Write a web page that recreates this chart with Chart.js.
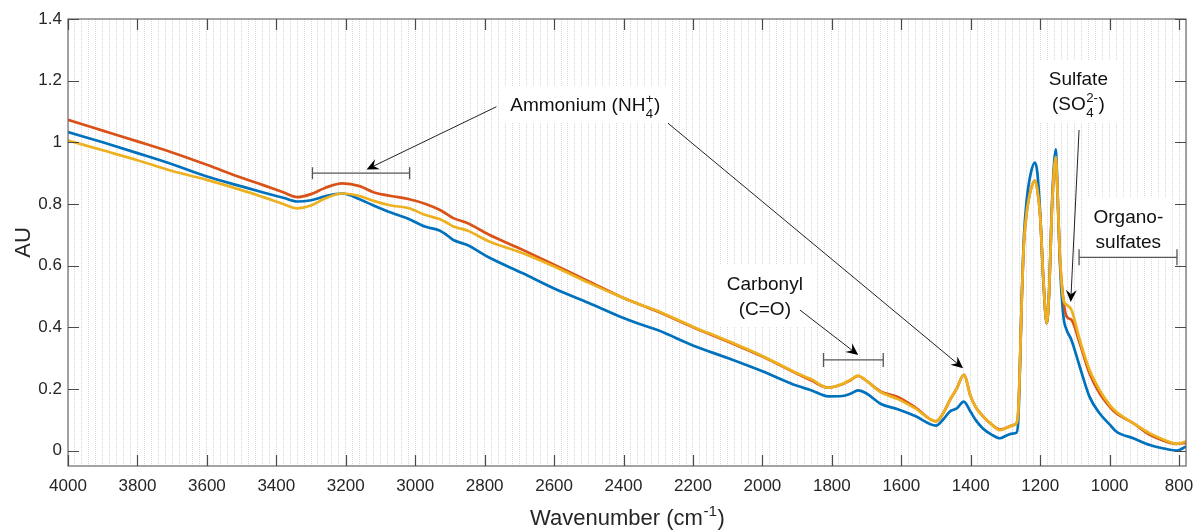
<!DOCTYPE html>
<html><head><meta charset="utf-8">
<script src="https://cdn.jsdelivr.net/npm/chart.js@4"></script>
<style>html,body{margin:0;padding:0;background:#fff}#wrap{width:1195px;height:531px;position:relative}</style>
</head><body><div id="wrap"><canvas id="c" width="1195" height="531"></canvas></div>
<script>
const wavenumbers = [4000,3900,3800,3700,3600,3500,3440,3380,3340,3300,
  3260,3210,3160,3120,3070,3020,2970,2930,2910,2890,
  2850,2790,2690,2600,2500,2400,2360,2300,2200,2100,
  2000,1900,1860,1810,1770,1745,1725,1700,1660,1610,
  1560,1500,1480,1460,1440,1420,1400,1385,1365,1340,
  1316,1295,1280,1268,1263,1258,1253,1247,1239,1227,
  1215,1208,1200,1191,1181,1174,1167,1160,1155,1151,
  1143,1133,1124,1110,1086,1058,1029,1000,981,932,
  884,836,807,780];
const blueAU = [1.033,1.000,0.965,0.929,0.889,0.857,0.838,0.820,0.808,0.812,
  0.825,0.834,0.815,0.795,0.772,0.752,0.726,0.714,0.700,0.683,
  0.667,0.628,0.575,0.526,0.479,0.430,0.413,0.390,0.341,0.300,
  0.257,0.210,0.196,0.176,0.177,0.185,0.195,0.185,0.152,0.134,
  0.112,0.081,0.100,0.127,0.137,0.159,0.125,0.098,0.072,0.052,
  0.040,0.050,0.055,0.058,0.100,0.280,0.500,0.690,0.810,0.900,
  0.934,0.900,0.770,0.554,0.413,0.520,0.770,0.930,0.977,0.878,
  0.608,0.435,0.392,0.359,0.272,0.175,0.121,0.085,0.062,0.040,
  0.018,0.005,0.000,0.013];
const redAU = [1.073,1.038,1.003,0.967,0.927,0.885,0.862,0.838,0.822,0.832,
  0.852,0.867,0.858,0.838,0.826,0.816,0.800,0.781,0.768,0.754,
  0.738,0.702,0.651,0.603,0.549,0.495,0.477,0.450,0.400,0.354,
  0.305,0.249,0.228,0.204,0.215,0.229,0.242,0.226,0.192,0.174,
  0.140,0.095,0.120,0.164,0.202,0.246,0.175,0.140,0.112,0.085,
  0.068,0.075,0.082,0.089,0.130,0.290,0.490,0.670,0.770,0.846,
  0.876,0.845,0.760,0.560,0.413,0.520,0.760,0.910,0.948,0.860,
  0.620,0.489,0.435,0.424,0.348,0.251,0.186,0.143,0.121,0.089,
  0.051,0.029,0.022,0.025];
const yellowAU = [1.006,0.974,0.942,0.907,0.878,0.845,0.823,0.800,0.786,0.795,
  0.818,0.834,0.826,0.810,0.795,0.787,0.764,0.751,0.740,0.727,
  0.714,0.680,0.640,0.597,0.544,0.495,0.477,0.452,0.402,0.356,
  0.307,0.251,0.232,0.204,0.216,0.231,0.243,0.226,0.190,0.167,
  0.137,0.095,0.120,0.164,0.202,0.246,0.175,0.140,0.112,0.085,
  0.066,0.074,0.082,0.089,0.130,0.290,0.490,0.670,0.770,0.846,
  0.876,0.845,0.760,0.560,0.413,0.520,0.760,0.910,0.953,0.865,
  0.630,0.489,0.473,0.457,0.359,0.262,0.197,0.148,0.126,0.089,
  0.056,0.032,0.022,0.029];
const xTickLabels = [4000,3800,3600,3400,3200,3000,2800,2600,2400,2200,2000,1800,1600,1400,1200,1000,800];
const yTickLabels = [0,0.2,0.4,0.6,0.8,1,1.2,1.4];
const xMin = 780, xMax = 4000, yMin = -0.05, yMax = 1.4, minorStep = 20;

const FONT = '"Liberation Sans", Arial, Helvetica, sans-serif';
const INK = '#262626';

// annotation layout (in data coordinates)
const annotations = {
  ranges: [
    {from: 3296, to: 3016, y: 0.900, cap: 6},
    {from: 1824, to: 1652, y: 0.294, cap: 7},
    {from: 1088, to: 806, y: 0.627, cap: 8}
  ],
  arrows: [
    {x1: 2766, y1: 1.1155, x2: 3140, y2: 0.912},
    {x1: 2272, y1: 1.062, x2: 1422, y2: 0.267},
    {x1: 1892, y1: 0.456, x2: 1724, y2: 0.310},
    {x1: 1088, y1: 1.040, x2: 1112, y2: 0.482}
  ],
  labels: [
    {x: 2510, y: 1.123, lines: [[{t: 'Ammonium (NH'}, {sup: '+', sub: '4'}, {t: ')'}]]},
    {x: 1993, y: 0.503, lines: [[{t: 'Carbonyl'}], [{t: '(C=O)'}]]},
    {x: 1090, y: 1.166, lines: [[{t: 'Sulfate'}], [{t: '(SO'}, {sup: '2-', sub: '4'}, {t: ')'}]]},
    {x: 946, y: 0.721, lines: [[{t: 'Organo-'}], [{t: 'sulfates'}]]}
  ]
};

function partsWidth(ctx, parts, size) {
  let w = 0;
  for (const p of parts) {
    if (p.t !== undefined) { ctx.font = size + 'px ' + FONT; w += ctx.measureText(p.t).width; }
    else {
      ctx.font = (size * 0.7) + 'px ' + FONT;
      w += Math.max(p.sup ? ctx.measureText(p.sup).width : 0, p.sub ? ctx.measureText(p.sub).width : 0) + 1;
    }
  }
  return w;
}
function drawParts(ctx, parts, cx, baseline, size) {
  const w = partsWidth(ctx, parts, size);
  let x = cx - w / 2;
  ctx.textAlign = 'left'; ctx.textBaseline = 'alphabetic';
  for (const p of parts) {
    if (p.t !== undefined) {
      ctx.font = size + 'px ' + FONT;
      ctx.fillText(p.t, x, baseline);
      x += ctx.measureText(p.t).width;
    } else {
      ctx.font = (size * 0.7) + 'px ' + FONT;
      let ww = 0;
      if (p.sup) { ctx.fillText(p.sup, x + 0.5, baseline - size * 0.42); ww = Math.max(ww, ctx.measureText(p.sup).width); }
      if (p.sub) { ctx.fillText(p.sub, x + 0.5, baseline + size * 0.33); ww = Math.max(ww, ctx.measureText(p.sub).width); }
      x += ww + 1;
    }
  }
  return w;
}

const overlay = {
  id: 'overlay',
  beforeDatasetsDraw(chart) {
    const ctx = chart.ctx, xs = chart.scales.x, ys = chart.scales.y;
    const size = 19, lh = 25;
    ctx.save();
    for (const lab of annotations.labels) {
      const cx = xs.getPixelForValue(lab.x), cy = ys.getPixelForValue(lab.y);
      let maxW = 0;
      for (const ln of lab.lines) maxW = Math.max(maxW, partsWidth(ctx, ln, size));
      const h = lab.lines.length * lh;
      ctx.fillStyle = '#ffffff';
      ctx.fillRect(cx - maxW / 2 - 9, cy - h / 2 - 6, maxW + 18, h + 12);
    }
    ctx.restore();
  },
  afterDraw(chart) {
    const ctx = chart.ctx, xs = chart.scales.x, ys = chart.scales.y, a = chart.chartArea;
    ctx.save();
    ctx.strokeStyle = '#6a6a6a'; ctx.lineWidth = 1.2;
    ctx.strokeRect(a.left, a.top, a.right - a.left, a.bottom - a.top);
    ctx.strokeStyle = '#4a4a4a'; ctx.lineWidth = 1.2;
    ctx.beginPath();
    for (const v of xTickLabels) {
      const px = Math.round(xs.getPixelForValue(v)) + 0.5;
      ctx.moveTo(px, a.bottom); ctx.lineTo(px, a.bottom - 11);
      ctx.moveTo(px, a.top); ctx.lineTo(px, a.top + 11);
    }
    for (const v of yTickLabels) {
      const py = Math.round(ys.getPixelForValue(v)) + 0.5;
      ctx.moveTo(a.left, py); ctx.lineTo(a.left + 11, py);
      ctx.moveTo(a.right, py); ctx.lineTo(a.right - 11, py);
    }
    ctx.stroke();

    ctx.strokeStyle = '#555'; ctx.lineWidth = 1.3;
    for (const r of annotations.ranges) {
      const x1 = xs.getPixelForValue(r.from), x2 = xs.getPixelForValue(r.to), y = ys.getPixelForValue(r.y);
      ctx.beginPath();
      ctx.moveTo(x1, y); ctx.lineTo(x2, y);
      ctx.moveTo(x1, y - r.cap); ctx.lineTo(x1, y + r.cap);
      ctx.moveTo(x2, y - r.cap); ctx.lineTo(x2, y + r.cap);
      ctx.stroke();
    }
    for (const ar of annotations.arrows) {
      const x1 = xs.getPixelForValue(ar.x1), y1 = ys.getPixelForValue(ar.y1);
      const x2 = xs.getPixelForValue(ar.x2), y2 = ys.getPixelForValue(ar.y2);
      const dx = x2 - x1, dy = y2 - y1, L = Math.hypot(dx, dy);
      const ux = dx / L, uy = dy / L, nx = -uy, ny = ux;
      const hl = 12, hw = 5.5;
      ctx.strokeStyle = '#222'; ctx.lineWidth = 1;
      ctx.beginPath(); ctx.moveTo(x1, y1); ctx.lineTo(x2 - ux * 6, y2 - uy * 6); ctx.stroke();
      ctx.fillStyle = '#000';
      ctx.beginPath();
      ctx.moveTo(x2, y2);
      ctx.lineTo(x2 - ux * hl + nx * hw, y2 - uy * hl + ny * hw);
      ctx.lineTo(x2 - ux * hl * 0.65, y2 - uy * hl * 0.65);
      ctx.lineTo(x2 - ux * hl - nx * hw, y2 - uy * hl - ny * hw);
      ctx.closePath(); ctx.fill();
    }
    const size = 19, lh = 25;
    ctx.fillStyle = '#111';
    for (const lab of annotations.labels) {
      const cx = xs.getPixelForValue(lab.x), cy = ys.getPixelForValue(lab.y);
      const n = lab.lines.length;
      lab.lines.forEach((ln, i) => {
        const centerY = cy + (i - (n - 1) / 2) * lh;
        drawParts(ctx, ln, cx, centerY + size * 0.36, size);
      });
    }
    ctx.fillStyle = INK;
    const tsize = 22;
    drawParts(ctx, [{t: 'Wavenumber (cm'}, {sup: '-1'}, {t: ')'}], (a.left + a.right) / 2 + 0.5, 525, tsize);
    ctx.save();
    ctx.translate(30, (a.top + a.bottom) / 2);
    ctx.rotate(-Math.PI / 2);
    ctx.font = tsize + 'px ' + FONT; ctx.textAlign = 'center'; ctx.textBaseline = 'alphabetic';
    ctx.fillText('AU', 0, 0);
    ctx.restore();
    ctx.restore();
  }
};

const mk = (arr) => wavenumbers.map((w, i) => ({x: w, y: arr[i]}));
new Chart(document.getElementById('c'), {
  type: 'line',
  data: {
    datasets: [
      {label: 'Sample 1', data: mk(blueAU), borderColor: '#0072BD', order: 2},
      {label: 'Sample 2', data: mk(redAU), borderColor: '#D95319', order: 1},
      {label: 'Sample 3', data: mk(yellowAU), borderColor: '#EDB120', order: 0}
    ]
  },
  options: {
    responsive: false,
    animation: false,
    events: [],
    elements: {
      point: {radius: 0},
      line: {borderWidth: 2.7, cubicInterpolationMode: 'monotone', fill: false}
    },
    layout: {padding: {left: 0, right: 9, top: 19, bottom: 0}},
    plugins: {legend: {display: false}, tooltip: {enabled: false}},
    scales: {
      x: {
        type: 'linear', reverse: true, min: xMin, max: xMax,
        afterBuildTicks: (s) => {
          const t = [];
          for (let v = xMin; v <= xMax; v += minorStep) t.push({value: v});
          s.ticks = t;
        },
        afterFit: (s) => { s.height = 65; },
        ticks: {
          autoSkip: false, maxRotation: 0, minRotation: 0, padding: 10,
          color: INK, font: {family: FONT, size: 17},
          callback: (v) => xTickLabels.includes(v) ? String(v) : ''
        },
        grid: {color: 'rgba(150,150,150,0.38)', lineWidth: 1, drawTicks: false},
        border: {display: false, dash: [1, 1]}
      },
      y: {
        type: 'linear', min: yMin, max: yMax,
        afterBuildTicks: (s) => { s.ticks = yTickLabels.map(v => ({value: v})); },
        afterFit: (s) => { s.width = 68; },
        ticks: {
          padding: 6, color: INK, font: {family: FONT, size: 17},
          callback: (v) => String(Math.round(v * 10) / 10)
        },
        grid: {display: false, drawTicks: false},
        border: {display: false}
      }
    }
  },
  plugins: [overlay]
});
</script>
</body></html>
